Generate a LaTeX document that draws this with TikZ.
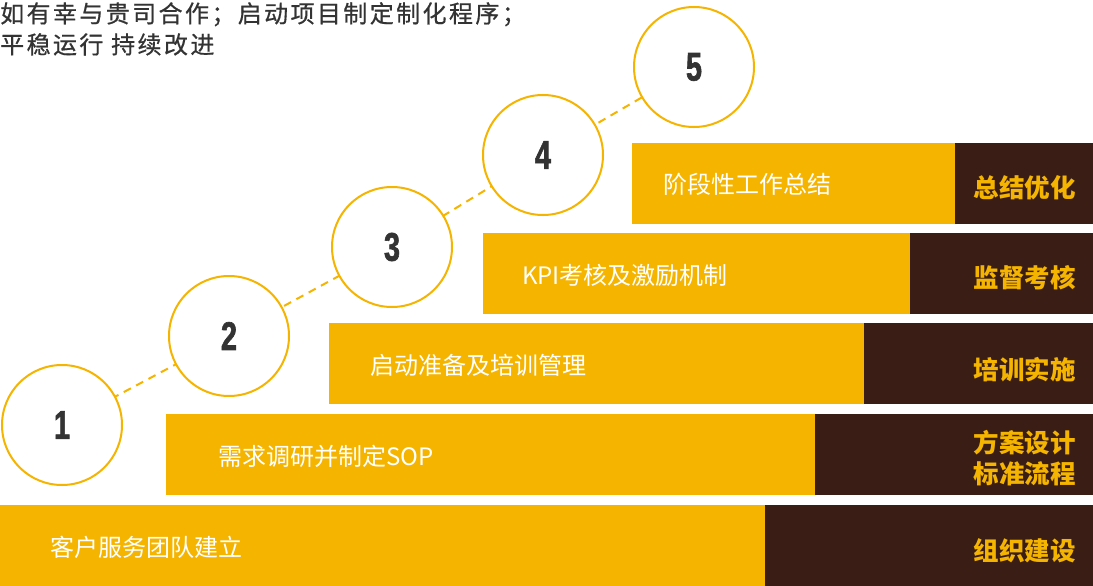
\documentclass[tikz,border=0pt]{standalone}
\usepackage{fontspec}
\setmainfont{Noto Sans CJK SC}
\newfontfamily\numfont{Liberation Sans}[FakeStretch=0.72,FakeBold=1.5]
\newfontfamily\topfont{Noto Sans CJK SC}[LetterSpace=10,FakeBold=0.6]
\definecolor{ylw}{HTML}{F5B400}
\definecolor{drk}{HTML}{3A1E16}
\definecolor{txt}{HTML}{333333}
\begin{document}
\begin{tikzpicture}[x=1pt,y=-1pt,
  ybar/.style={fill=ylw, inner sep=0pt, outer sep=0pt, anchor=north west, minimum height=81pt},
  dbar/.style={fill=drk, inner sep=0pt, outer sep=0pt, anchor=north west, minimum height=81pt},
  wtext/.style={anchor=west, text=white, inner sep=0pt, font=\fontsize{24}{26}\selectfont},
  ltext/.style={anchor=east, text=ylw, inner sep=0pt, align=right, font=\bfseries\fontsize{25.5}{31}\selectfont},
  circ/.style={circle, draw=ylw, line width=2pt, fill=white, minimum size=120pt, inner sep=0pt, text=txt, font=\numfont\bfseries\fontsize{40}{40}\selectfont},
  link/.style={draw=ylw, line width=2pt, dash pattern=on 8pt off 6pt},
  toptext/.style={anchor=north west, inner sep=0pt, text=txt, align=left, font=\topfont\fontsize{24}{31}\selectfont}]
\useasboundingbox (0,0) rectangle (1093,586);
\fill[white] (0,0) rectangle (1093,586);
% top text
\node[toptext] (top) at (0,2) {如有幸与贵司合作；启动项目制定制化程序；\\平稳运行 持续改进};
% rows
\node[ybar, minimum width=765pt] (y1) at (0,505) {};
\node[dbar, minimum width=328pt] (d1) at (765,505) {};
\node[ybar, minimum width=649pt] (y2) at (166,414) {};
\node[dbar, minimum width=278pt] (d2) at (815,414) {};
\node[ybar, minimum width=535pt] (y3) at (329,323) {};
\node[dbar, minimum width=229pt] (d3) at (864,323) {};
\node[ybar, minimum width=427pt] (y4) at (483,233) {};
\node[dbar, minimum width=183pt] (d4) at (910,233) {};
\node[ybar, minimum width=323pt] (y5) at (632,143) {};
\node[dbar, minimum width=138pt] (d5) at (955,143) {};
% row texts
\node[wtext] (t1) at ([xshift=50pt,yshift=-2pt]y1.west) {客户服务团队建立};
\node[wtext] (t2) at ([xshift=52pt,yshift=-2pt]y2.west) {需求调研并制定SOP};
\node[wtext] (t3) at ([xshift=41pt,yshift=-2pt]y3.west) {启动准备及培训管理};
\node[wtext] (t4) at ([xshift=39pt,yshift=-2pt]y4.west) {KPI考核及激励机制};
\node[wtext] (t5) at ([xshift=31pt,yshift=-1pt]y5.west) {阶段性工作总结};
% labels
\node[ltext] (l1) at ([xshift=-17pt,yshift=-5pt]d1.east) {组织建设};
\node[ltext] (l2) at ([xshift=-17pt,yshift=-4pt]d2.east) {方案设计\\标准流程};
\node[ltext] (l3) at ([xshift=-17pt,yshift=-6pt]d3.east) {培训实施};
\node[ltext] (l4) at ([xshift=-17pt,yshift=-4pt]d4.east) {监督考核};
\node[ltext] (l5) at ([xshift=-17pt,yshift=-4pt]d5.east) {总结优化};
% circles
\path[link] (62,425) -- (229,336) -- (392,247) -- (543,155) -- (694,67);
\node[circ] (c1) at (62,425) {1};
\node[circ] (c2) at (229,336) {2};
\node[circ] (c3) at (392,247) {3};
\node[circ] (c4) at (543,155) {4};
\node[circ] (c5) at (694,67) {5};
\end{tikzpicture}
\end{document}
